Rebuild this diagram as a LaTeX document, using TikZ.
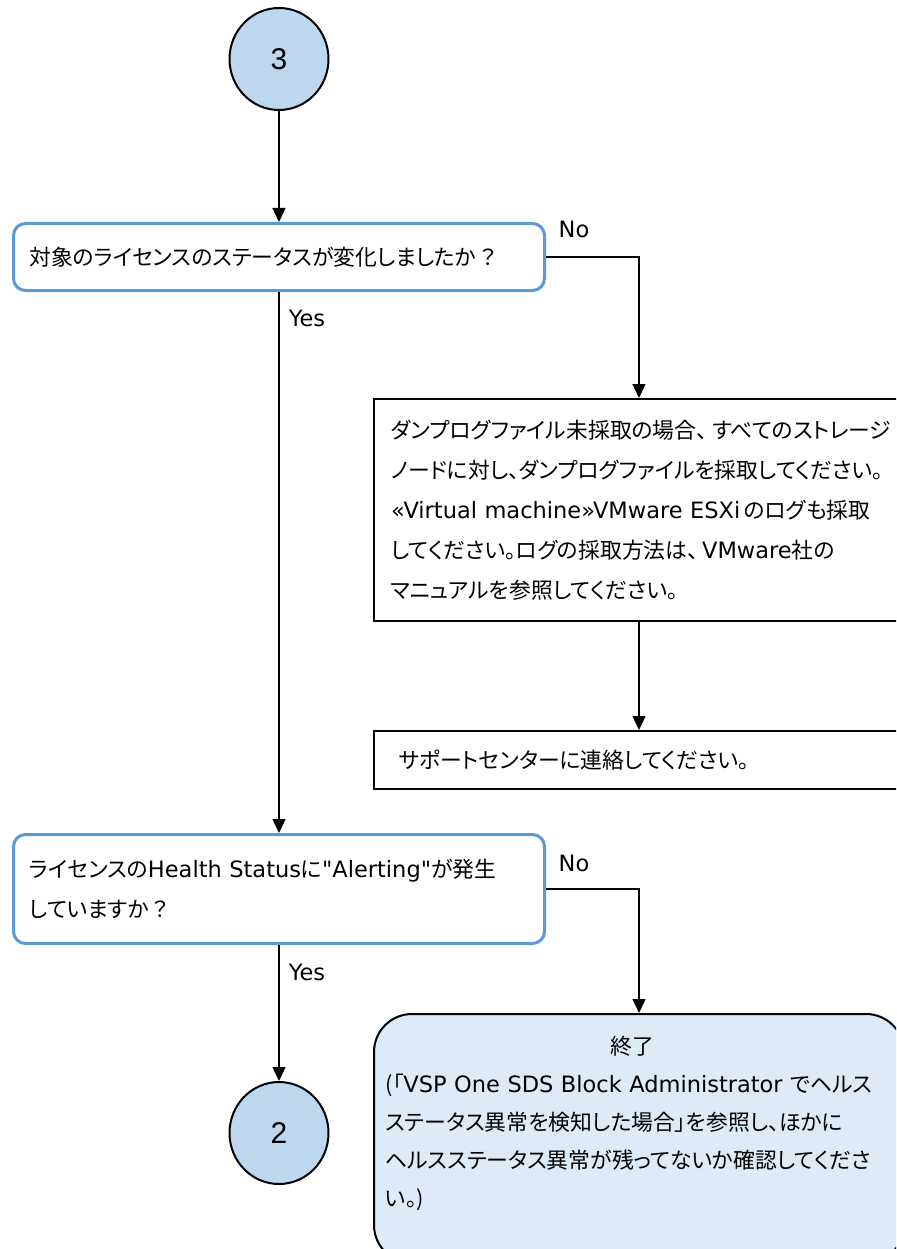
\documentclass[tikz,border=0pt]{standalone}
\usepackage{fontspec}
\setmainfont{DejaVu Sans}
\newfontfamily\latinfont{DejaVu Sans}
\newfontfamily\jpfont[Scale=0.97,RawFeature=+palt]{Noto Sans CJK JP}
\newfontfamily\arialfont{Liberation Sans}
\newcommand\J[1]{{\jpfont #1}}
\usetikzlibrary{arrows.meta,shapes.geometric}
\definecolor{cfill}{HTML}{BDD7EE}
\definecolor{dblue}{HTML}{5B9BD5}
\definecolor{efill}{HTML}{DDEBF7}
\begin{document}
\begin{tikzpicture}[x=1pt,y=-1pt,
  font=\latinfont\fontsize{22.5}{40}\selectfont,
  conn/.style={line width=1.3pt,-{Triangle[length=14pt,width=13pt]}},
  connector/.style={draw,ellipse,line width=2pt,fill=cfill,minimum width=99pt,minimum height=102pt,inner sep=0pt,font=\arialfont\fontsize{30}{30}\selectfont},
  decbox/.style={draw=dblue,line width=3pt,rounded corners=12pt,fill=white,anchor=north west,minimum width=531pt,text width=499pt,inner xsep=16pt,align=left},
  procbox/.style={draw,line width=2pt,fill=white,anchor=north west,minimum width=530pt,align=left},
  endbox/.style={draw,line width=2pt,fill=efill,rounded corners=38pt,anchor=north west,minimum width=530pt,minimum height=249pt},
  lbl/.style={inner sep=0pt}
]
\useasboundingbox (0,0) rectangle (896,1249);
\clip (0,0) rectangle (896,1249);

\node[connector] (c3) at (279,59) {3};
\node[decbox,minimum height=67pt] (d1) at (12,222) {\mbox{\J{対象のライセンスのステータスが変化しましたか}\,\J{？}}};
\node[procbox,minimum height=222pt,text width=496pt,inner xsep=17pt] (b1) at (373,398)
  {\mbox{\J{ダンプログファイル未採取の場合、}\hspace{5pt}\J{すべてのストレージ}}\\
   \mbox{\J{ノードに対し、ダンプログファイルを採取してください。}}\\
   \mbox{«Virtual machine»VMware ESXi\,\J{のログも採取}}\\
   \mbox{\J{してください。ログの採取方法は、}\,VMware\J{社の}}\\
   \mbox{\J{マニュアルを参照してください。}}};
\node[procbox,minimum height=58pt,text width=480pt,inner xsep=25pt] (b2) at (373,730)
  {\mbox{\J{サポートセンターに連絡してください。}}};
\node[decbox,minimum height=109pt] (d2) at (12,833)
  {\mbox{\J{ライセンスの}Health Status\J{に}"Alerting"\J{が発生}}\\
   \mbox{\J{していますか}\,\J{？}}};
\node[connector] (c2) at (279,1133) {2};
\node[endbox] (e) at (373,1013) {};
\node[lbl] (etitle) at (632,1046) {\J{終了}};
\node[lbl,anchor=north west,text width=500pt,align=left,font=\latinfont\fontsize{22.5}{38}\selectfont] (ebody) at (385,1074)
  {\mbox{\J{(「}VSP One SDS Block Administrator \J{でヘルス}}\\
   \mbox{\J{ステータス異常を検知した場合」を参照し、ほかに}}\\
   \mbox{\J{ヘルスステータス異常が残ってないか確認してくださ}}\\
   \mbox{\J{い。)}}};

\node[lbl] (no1) at (574,229) {No};
\node[lbl] (yes1) at (307,318) {Yes};
\node[lbl] (no2) at (574,863) {No};
\node[lbl] (yes2) at (307,972) {Yes};

\draw[conn] (c3.south) -- (c3.south |- d1.north);
\draw[conn] (d1.east) -| (b1.north);
\draw[conn] (b1.south) -- (b2.north);
\draw[conn] (c3.south |- d1.south) -- (c3.south |- d2.north);
\draw[conn] (d2.east) -| (e.north);
\draw[conn] (c2.north |- d2.south) -- (c2.north);
\end{tikzpicture}
\end{document}
